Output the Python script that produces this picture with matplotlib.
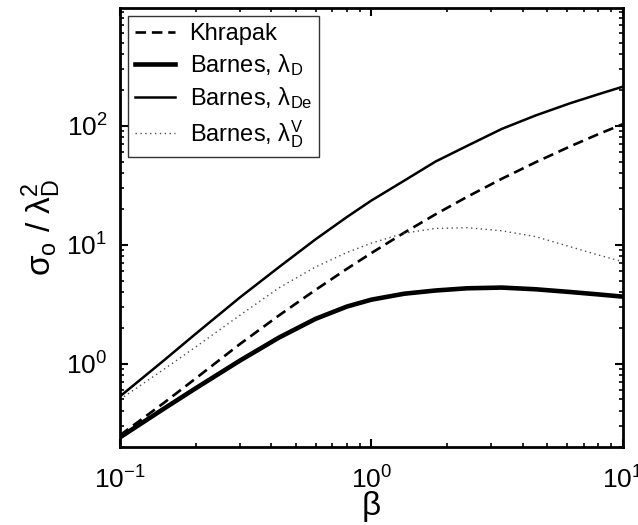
import matplotlib
matplotlib.use('Agg')
import matplotlib.pyplot as plt
import numpy as np

# values (beta on log axis)
beta = [0.1, 0.15, 0.2, 0.3, 0.43, 0.6, 0.8, 1.0, 1.35, 1.8, 2.4, 3.3, 4.5, 6.2, 8.0, 10.0]

khrapak = [0.25, 0.47, 0.75, 1.46, 2.55, 4.17, 6.27, 8.5, 12.6, 18.0, 25.2, 35.8, 49.3, 67.3, 85.0, 103.0]
barnes_D = [0.24, 0.42, 0.62, 1.06, 1.66, 2.38, 3.02, 3.45, 3.87, 4.12, 4.30, 4.36, 4.22, 4.00, 3.82, 3.66]
barnes_De = [0.53, 1.07, 1.78, 3.6, 6.5, 11.1, 17.1, 23.5, 34.5, 50.0, 67.6, 94.0, 122.0, 155.0, 184.0, 213.0]
barnes_DV = [0.50, 0.90, 1.38, 2.55, 4.35, 6.5, 8.6, 10.3, 12.5, 13.7, 13.9, 13.1, 11.7, 9.6, 8.2, 7.2]

labels = ['Khrapak', r'Barnes, $\lambda_D$', r'Barnes, $\lambda_{De}$', r'Barnes, $\lambda_D^V$']


def main():
    plt.rcParams['font.family'] = ['Liberation Sans', 'DejaVu Sans']
    plt.rcParams['mathtext.default'] = 'regular'
    plt.rcParams['mathtext.fontset'] = 'custom'
    plt.rcParams['mathtext.rm'] = 'Liberation Sans'
    plt.rcParams['mathtext.it'] = 'Liberation Sans'
    plt.rcParams['axes.linewidth'] = 2.0

    fig = plt.figure(figsize=(6.38, 5.25), dpi=100)
    ax = fig.add_axes([0.188, 0.149, 0.788, 0.836])

    ax.plot(beta, khrapak, color='k', linestyle=(0, (4.0, 2.2)), lw=1.9, label=labels[0])
    ax.plot(beta, barnes_D, color='k', lw=3.3, label=labels[1])
    ax.plot(beta, barnes_De, color='k', lw=1.8, label=labels[2])
    ax.plot(beta, barnes_DV, color='0.3', linestyle=(0, (1, 2.5)), lw=1.0, label=labels[3])

    ax.set_xscale('log')
    ax.set_yscale('log')
    ax.set_xlim(0.1, 10)
    ax.set_ylim(0.2, 980)

    ax.tick_params(which='both', direction='in', top=True, right=True, labelsize=19)
    ax.tick_params(which='major', length=6, width=1.5, pad=9)
    ax.tick_params(axis='x', which='major', pad=14)
    ax.tick_params(which='minor', length=3, width=1.2)

    ax.set_xlabel(r'β', fontsize=24, labelpad=-2)
    ax.set_ylabel(r'σ$_o$ / λ$_D^2$', fontsize=24, labelpad=2)

    leg = ax.legend(loc='upper left', fontsize=17, frameon=True, fancybox=False,
                    edgecolor='k', handlelength=1.7, handletextpad=0.6,
                    borderaxespad=0.35, labelspacing=0.3, borderpad=0.3)
    leg.get_frame().set_linewidth(1.0)

    fig.savefig('out.png', dpi=100)


if __name__ == '__main__':
    main()
